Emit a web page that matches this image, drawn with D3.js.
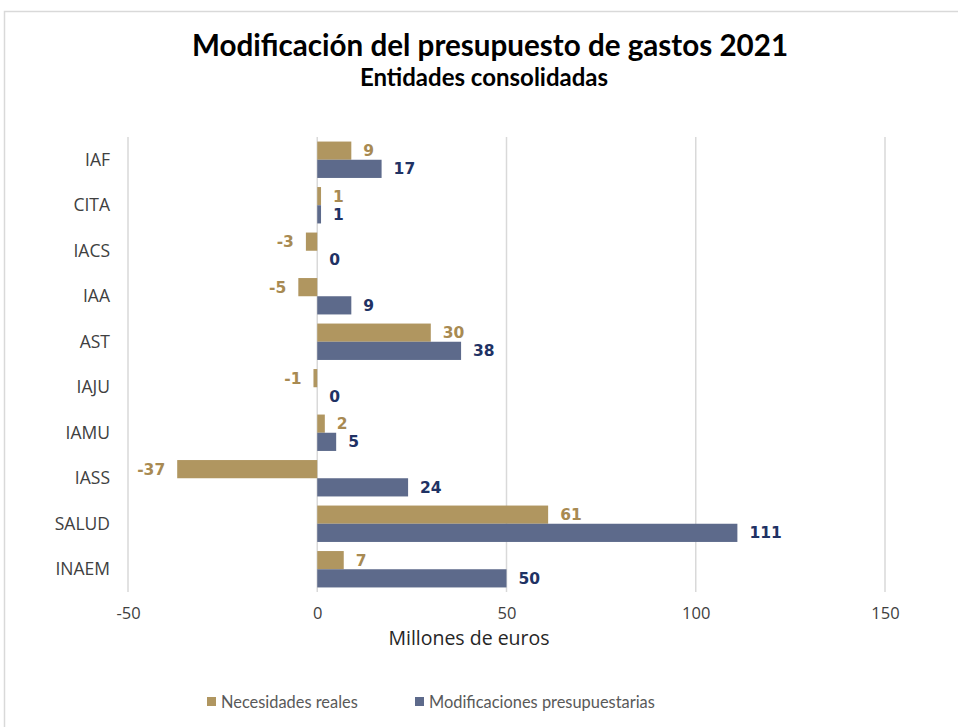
<!DOCTYPE html>
<html><head><meta charset="utf-8">
<script src="https://cdn.jsdelivr.net/npm/d3@7"></script>
<style>body{margin:0;background:#fff;} svg{display:block;}</style>
</head><body>
<svg id="c" width="958" height="727"></svg>
<script>
const categories = ["IAF","CITA","IACS","IAA","AST","IAJU","IAMU","IASS","SALUD","INAEM"];
const necesidades = [9,1,-3,-5,30,-1,2,-37,61,7];
const modificaciones = [17,1,0,9,38,0,5,24,111,50];
const seriesNames = ["Necesidades reales","Modificaciones presupuestarias"];
const xTicks = [-50,0,50,100,150];

const colors = ["#B09660","#5D6A8B"];
const labelColors = ["#A88A52","#1F3264"];
const font = "Lato, 'Open Sans', sans-serif";
const font2 = "'Open Sans', sans-serif";
const fmt = v => String(Math.round(v));

const svg = d3.select("#c");
svg.append("rect").attr("x",4.5).attr("y",11.5).attr("width",1000).attr("height",800)
  .attr("fill","#fff").attr("stroke","#D9D9D9").attr("stroke-width",1.5);

const x = d3.scaleLinear().domain([-50,150]).range([128,885]);
const y = d3.scaleBand().domain(categories).range([137,592]).paddingInner(0.2).paddingOuter(0.1);
const ySub = d3.scaleBand().domain([0,1]).range([0,y.bandwidth()]);

// gridlines
svg.append("g").selectAll("line").data(xTicks).join("line")
  .attr("x1",d=>x(d)).attr("x2",d=>x(d)).attr("y1",137).attr("y2",592)
  .attr("stroke","#D9D9D9").attr("stroke-width",1.5);

const data = [];
categories.forEach((c,i)=>{
  data.push({c, s:0, v:necesidades[i]});
  data.push({c, s:1, v:modificaciones[i]});
});

svg.append("g").selectAll("rect").data(data).join("rect")
  .attr("x",d=>x(Math.min(0,d.v)))
  .attr("width",d=>Math.abs(x(d.v)-x(0)))
  .attr("y",d=>y(d.c)+ySub(d.s))
  .attr("height",ySub.bandwidth())
  .attr("fill",d=>colors[d.s]);

svg.append("g").selectAll("text").data(data).join("text")
  .attr("x",d=>d.v<0 ? x(d.v)-12 : x(d.v)+12)
  .attr("y",d=>y(d.c)+ySub(d.s)+ySub.bandwidth()/2)
  .attr("dy","0.35em")
  .attr("text-anchor",d=>d.v<0?"end":"start")
  .attr("font-family","Verdana, 'DejaVu Sans', sans-serif").attr("font-weight","bold")
  .attr("font-size",15.5)
  .attr("fill",d=>labelColors[d.s])
  .text(d=>fmt(d.v));

// category labels
const yAxis = d3.axisLeft(y).tickSize(0).tickPadding(0);
const gy = svg.append("g").attr("transform","translate(110,0)").call(yAxis);
gy.select(".domain").remove();
gy.selectAll("text").attr("font-family",font2).attr("font-size",17.5).attr("fill","#404040").attr("dy","0.35em");

// x axis labels
const xAxis = d3.axisBottom(x).tickValues(xTicks).tickSize(0).tickPadding(0).tickFormat(fmt);
const gx = svg.append("g").attr("transform","translate(0,613)").call(xAxis);
gx.select(".domain").remove();
gx.selectAll("text").attr("font-family",font2).attr("font-size",16.5).attr("fill","#404040").attr("dy","0.35em").attr("y",0);

svg.append("text").attr("x",469).attr("y",645).attr("text-anchor","middle")
  .attr("font-family",font2).attr("font-size",19.5).attr("fill","#262626").text("Millones de euros");

// titles
svg.append("text").attr("x",490).attr("y",55.5).attr("text-anchor","middle")
  .attr("font-family",font).attr("font-weight","bold").attr("font-size",29.6).attr("fill","#000")
  .text("Modificación del presupuesto de gastos 2021");
svg.append("text").attr("x",484).attr("y",85.5).attr("text-anchor","middle")
  .attr("font-family",font).attr("font-weight","bold").attr("font-size",24).attr("fill","#000")
  .text("Entidades consolidadas");

// legend
const legX = [207,415];
const lg = svg.append("g");
seriesNames.forEach((n,i)=>{
  lg.append("rect").attr("x",legX[i]).attr("y",697).attr("width",9).attr("height",9).attr("fill",colors[i]);
  lg.append("text").attr("x",legX[i]+14).attr("y",702).attr("dy","0.35em")
    .attr("font-family",font).attr("font-size",16.4).attr("fill","#595959").text(n);
});
</script>
</body></html>
